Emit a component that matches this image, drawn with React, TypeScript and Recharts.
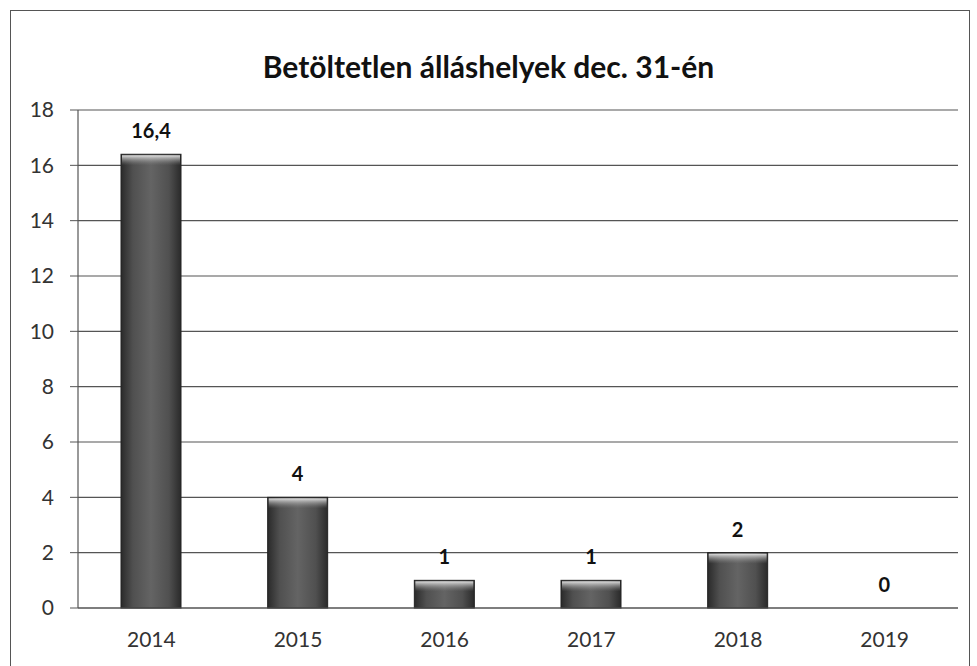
import React from "react";
import { ComposedChart, Bar, XAxis, YAxis, CartesianGrid, LabelList } from "recharts";

const years = ["2014", "2015", "2016", "2017", "2018", "2019"];
const vacancies = [16.4, 4, 1, 1, 2, 0];
const yTicks = [0, 2, 4, 6, 8, 10, 12, 14, 16, 18];

const data = years.map((y, i) => ({ year: y, v: vacancies[i] }));

const FONT = "Lato, 'Open Sans', sans-serif";
const TICK = { fill: "#333", fontSize: 21, fontFamily: FONT } as const;

function GlossBar(props: any) {
  const { x, y, width, height } = props;
  if (!height || height <= 0) return null;
  const hl = Math.min(10, height * 0.4);
  return (
    <g>
      <rect x={x} y={y} width={width} height={height} fill="url(#barBody)" stroke="#222" strokeWidth={1} />
      <rect x={x + 1} y={y + 1} width={width - 2} height={hl} fill="url(#barTop)" />
    </g>
  );
}

export default function App() {
  return (
    <div style={{ position: "absolute", left: 0, top: 0, width: 977, height: 666, overflow: "hidden", background: "#fff" }}>
      <div style={{ position: "absolute", left: 10, top: 10, width: 958, height: 700, border: "1.5px solid #555" }} />
      <div style={{ position: "absolute", left: 0, top: 48, width: 977, textAlign: "center", fontFamily: FONT, fontWeight: 700, fontSize: 30, color: "#111" }}>
        Betöltetlen álláshelyek dec. 31-én
      </div>
      <ComposedChart width={977} height={666} data={data} margin={{ top: 110, right: 19, left: 0, bottom: 28 }} style={{ position: "absolute", left: 0, top: 0 }}>
        <defs>
          <linearGradient id="barBody" x1="0" y1="0" x2="1" y2="0">
            <stop offset="0" stopColor="#2a2a2a" />
            <stop offset="0.2" stopColor="#505050" />
            <stop offset="0.5" stopColor="#646464" />
            <stop offset="0.8" stopColor="#505050" />
            <stop offset="1" stopColor="#2a2a2a" />
          </linearGradient>
          <linearGradient id="barTop" x1="0" y1="0" x2="0" y2="1">
            <stop offset="0" stopColor="#e8e8e8" stopOpacity={0.95} />
            <stop offset="1" stopColor="#888" stopOpacity={0} />
          </linearGradient>
        </defs>
        <CartesianGrid vertical={false} stroke="#555" strokeWidth={1.2} />
        <XAxis dataKey="year" tick={TICK} tickLine={false} axisLine={{ stroke: "#555", strokeWidth: 1.2 }} dy={16} />
        <YAxis domain={[0, 18]} ticks={yTicks} width={78} tick={TICK} tickSize={8} tickLine={{ stroke: "#555" }} axisLine={{ stroke: "#555", strokeWidth: 1.2 }} interval={0} dx={-14} />
        <Bar dataKey="v" barSize={60} shape={<GlossBar />} isAnimationActive={false}>
          <LabelList dataKey="v" position="top" offset={16} fill="#111" fontSize={20} fontWeight={700} fontFamily={FONT} formatter={(v: any) => String(v).replace(".", ",")} />
        </Bar>
      </ComposedChart>
    </div>
  );
}
